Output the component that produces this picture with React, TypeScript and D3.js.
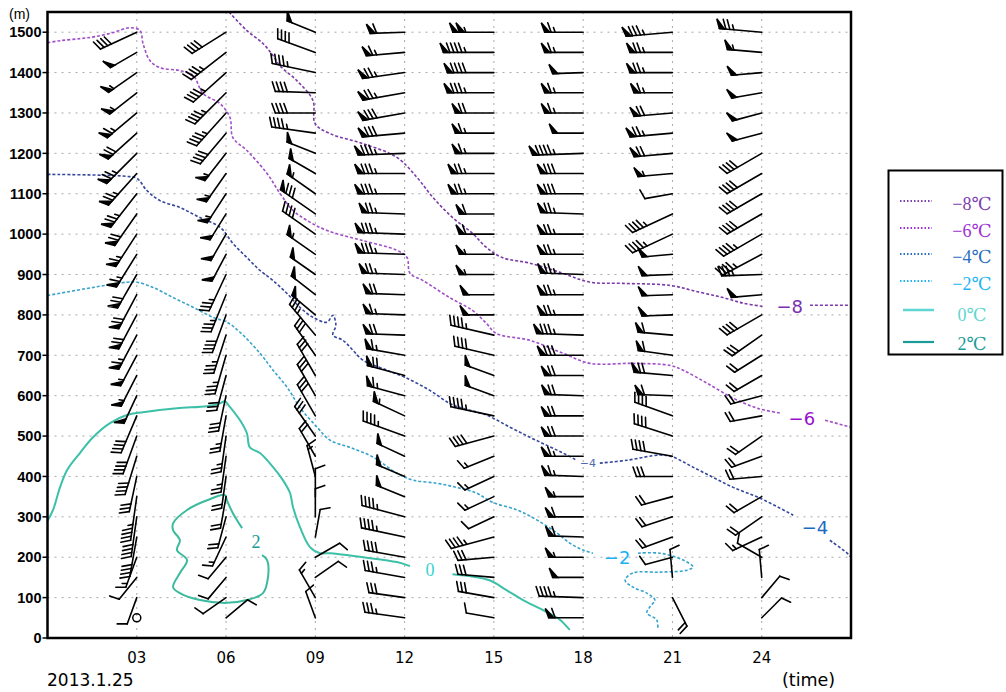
import React from 'react';
import * as d3 from 'd3';

// ---------------- data ----------------
const LEVELS = [1500,1450,1400,1350,1300,1250,1200,1150,1100,1050,1000,950,900,850,800,750,700,650,600,550,500,450,400,350,300,250,200,150,100,50];
const BARB_HOURS = [3,6,9,12,15,18,21,24];

const DIR_03 = [245,240,235,232,230,228,225,222,218,215,213,212,210,208,208,208,208,207,205,203,200,197,192,188,188,190,200,219,200,0];
const SPD_03 = [16,20,22,22,26,28,30,30,30,28,26,26,28,28,28,26,22,22,20,16,16,16,12,18,16,16,6,4,4,0];
const DIR_06 = [238,232,228,225,222,220,218,215,213,212,210,208,205,202,200,198,196,195,192,190,188,188,188,190,195,205,220,220,235,50];
const SPD_06 = [16,18,18,18,18,16,22,22,22,20,20,20,14,14,16,14,14,12,12,10,10,10,8,8,8,6,4,4,4,4];
const DIR_09 = [292,290,282,272,270,278,292,300,305,305,305,305,305,308,310,320,325,330,330,330,325,330,345,0,0,10,60,55,330,340];
const SPD_09 = [20,16,18,16,16,18,20,20,22,32,16,22,20,20,20,14,12,12,12,12,12,8,6,4,4,4,4,4,6,4];
const DIR_12 = [268,265,262,260,260,265,268,270,270,272,272,272,272,272,272,272,280,285,285,295,290,295,293,292,285,282,280,280,278,278];
const SPD_12 = [24,26,30,30,32,32,34,34,34,30,34,34,30,28,26,28,26,28,26,22,18,20,20,20,18,18,16,14,12,14];
const DIR_15 = [270,270,270,270,270,270,270,270,270,270,270,270,270,270,270,283,283,290,290,282,255,248,245,245,245,255,265,275,280,280];
const SPD_15 = [42,38,36,34,28,26,26,30,30,24,24,22,22,20,20,18,16,20,20,18,16,6,6,6,4,18,12,12,12,4];
const DIR_18 = [270,270,268,270,270,270,268,270,270,272,270,270,272,270,270,272,270,270,272,270,270,270,272,270,270,272,270,270,272,270];
const SPD_18 = [26,26,20,26,26,20,38,32,32,30,30,30,30,30,30,34,32,28,28,28,28,26,26,22,24,24,22,20,18,24];
const DIR_21 = [265,270,270,270,265,265,265,265,260,245,245,265,268,268,268,275,278,275,272,290,288,280,270,255,252,250,255,355,153,0];
const SPD_21 = [34,30,30,26,28,30,28,22,4,18,18,20,20,20,20,24,24,28,24,16,16,16,12,8,8,8,4,4,8,-1];
const DIR_24 = [275,275,265,260,255,255,240,240,240,240,240,242,268,265,240,235,238,240,255,260,235,250,265,240,235,245,300,355,40,45];
const SPD_24 = [30,22,20,20,20,20,16,16,16,16,18,18,14,20,16,12,8,8,8,8,8,8,8,8,8,6,4,4,4,4];

const WIND_DIRS = [DIR_03, DIR_06, DIR_09, DIR_12, DIR_15, DIR_18, DIR_21, DIR_24];
const WIND_SPDS = [SPD_03, SPD_06, SPD_09, SPD_12, SPD_15, SPD_18, SPD_21, SPD_24];

const Y_TICKS = [0,100,200,300,400,500,600,700,800,900,1000,1100,1200,1300,1400,1500];
const X_TICKS = [3,6,9,12,15,18,21,24];
const X_LABELS = ['03','06','09','12','15','18','21','24'];

// temperature contours: [hour, height m]
const T_M8 = [
  [[6.10,1550],[6.70,1504],[7.24,1472],[7.58,1442],[7.81,1417],[8.38,1380],[8.92,1331],[8.99,1274],[9.49,1249],[10.60,1224],[11.74,1190],[12.42,1140],[12.95,1091],[13.61,1041],[14.28,1002],[14.75,967],[15.28,942],[16.21,928],[17.32,903],[18.23,881],[19.34,878],[20.92,873],[21.92,856],[22.70,843],[23.38,829],[24.05,821]],
  [[25.62,824],[27,824]],
];
const T_M6 = [
  [[0,1474],[0.42,1479],[1.09,1484],[1.60,1489],[2.20,1499],[2.77,1511],[3.11,1504],[3.21,1472],[3.44,1430],[3.78,1412],[4.45,1405],[4.89,1393],[5.23,1348],[5.80,1323],[6.13,1289],[6.23,1239],[6.70,1207],[7.38,1150],[7.81,1101],[8.25,1059],[8.72,1034],[9.39,1009],[10.60,984],[11.74,960],[12.08,942],[12.18,903],[12.62,885],[13.51,843],[14.28,811],[14.75,779],[15.08,754],[16.21,737],[17.32,705],[18.23,680],[19.67,680],[20.92,675],[21.36,663],[22.16,631],[23.04,594],[23.85,569],[24.62,557]],
  [[26.13,539],[27,522]],
];
const T_M4 = [
  [[0,1148],[2.66,1143],[3.01,1138],[3.34,1108],[3.78,1083],[4.45,1066],[5.12,1041],[5.80,1017],[6.23,977],[6.70,942],[7.14,910],[7.58,885],[8.05,853],[8.48,819],[8.92,794],[9.39,782],[9.59,799],[9.69,774],[9.59,750],[9.93,737],[10.27,712],[10.60,688],[11.41,663],[12.08,643],[12.85,613],[13.51,581],[13.94,569],[14.75,552],[15.54,522],[16.21,497],[16.78,477],[17.32,458],[17.79,440]],
  [[18.56,433],[19.47,440],[20.58,453],[21.02,448],[21.69,423],[22.36,398],[23.04,373],[23.95,346],[25.06,304]],
  [[26.29,242],[26.87,210],[27,200]],
];
const T_M2 = [
  [[0,848],[1.53,868],[2.67,881],[3.01,881],[3.55,868],[4.22,843],[4.89,819],[5.56,794],[6.03,782],[6.47,757],[7.14,705],[7.58,663],[8.05,621],[8.48,571],[9.06,522],[9.49,490],[10.16,472],[10.94,448],[11.74,408],[12.28,391],[13.09,383],[13.74,373],[14.41,359],[14.95,336],[15.78,317],[16.45,292],[17.12,260],[17.55,235],[17.99,218],[18.33,210]],
  [[19.84,210],[20.58,210],[21.36,193],[21.69,176],[21.49,168],[20.58,163],[19.67,161],[19.41,143],[19.67,126],[20.14,111],[20.41,94],[20.24,77],[20.14,62],[20.47,45],[20.51,25]],
];
const T_0 = [
  [[0,290],[0.2,320],[0.42,373],[0.66,416],[1.09,458],[1.53,497],[2.10,532],[2.67,552],[3.21,559],[4.35,569],[5.36,574],[5.80,581],[5.96,586],[6.10,575],[6.47,539],[6.70,507],[6.80,472],[7.14,458],[7.58,423],[7.91,391],[8.15,359],[8.25,324],[8.48,275],[8.82,225],[9.16,210],[9.49,210],[10.60,200],[11.74,188],[12.18,178]],
  [[13.61,158],[14.85,143],[15.41,119],[15.98,94],[16.65,69],[17.22,45],[17.55,20]],
];
const T_2 = [
  [[6.54,272],[6.23,309],[6.03,341],[5.96,354],[5.36,341],[4.69,317],[4.22,284],[4.22,267],[4.45,242],[4.35,218],[4.69,193],[4.45,161],[4.22,126],[4.45,111],[5.12,94],[6.03,87],[6.70,94],[7.24,111],[7.41,151],[7.38,193],[7.21,205]],
];

const CONTOURS = [
  { segs: T_M8, color: '#7b3aa8', dash: '3,2', width: 1.6 },
  { segs: T_M6, color: '#a04fc8', dash: '3,2', width: 1.6 },
  { segs: T_M4, color: '#34479c', dash: '3,2', width: 1.6 },
  { segs: T_M2, color: '#35a3cc', dash: '3,2', width: 1.6 },
  { segs: T_0, color: '#3cc0a8', dash: null, width: 2 },
  { segs: T_2, color: '#3cba9e', dash: null, width: 2 },
];

// contour labels [hour, height]
const LABEL_TEXT = ['−8', '−6', '−4', '−4', '−2', '0', '2'];
const LABEL_POS = [[24.94,821],[25.35,542],[25.79,272],[18.16,433],[19.14,200],[12.85,168],[7.01,238]];
const LABEL_COLOR = ['#7a30b0', '#9a10cc', '#1a6cc0', '#5068b0', '#1ab2f0', '#3cd2d2', '#1a9a9a'];
const LABEL_SIZE = [18, 18, 18, 11, 18, 18, 18];

const LEGEND_TEXT = ['−8℃', '−6℃', '−4℃', '−2℃', '0℃', '2℃'];
const LEGEND_COLOR = ['#7c3fae', '#a12fd3', '#2a6fbf', '#1fb5f0', '#5fd6d0', '#1c9c98'];
const LEGEND_LINE = ['#7c3fae', '#a12fd3', '#2a6fbf', '#1fb5f0', '#5fd6d0', '#1c9c98'];

// ---------------- layout ----------------
const W = 1006, H = 692;
const PL = 47.5, PR = 851, PT = 12, PB = 638;

const x = d3.scaleLinear().domain([0, 27]).range([PL, PR]);
const y = d3.scaleLinear().domain([0, 1550]).range([PB, PT]);

function Barb({ cx, cy, dir, spd }: { cx: number; cy: number; dir: number; spd: number }) {
  if (spd < 0) return null;
  if (spd === 0) return <circle cx={cx} cy={cy} r={4} fill="none" stroke="#000" strokeWidth={1.5} />;
  const r = (dir * Math.PI) / 180;
  const ux = Math.sin(r), uy = -Math.cos(r);
  const b0x = -uy, b0y = ux;
  const a = (20 * Math.PI) / 180;
  const bx = Math.cos(a) * b0x + Math.sin(a) * ux;
  const by = Math.cos(a) * b0y + Math.sin(a) * uy;
  const np = Math.floor(spd / 20);
  let rem = spd - np * 20;
  const nf = Math.floor(rem / 4);
  rem -= nf * 4;
  const nh = rem >= 2 ? 1 : 0;
  const S0 = 24, PW = 5, GAP = 1.5, FS = 4, BL = 10;
  const L = S0 + np * (PW + GAP) + nf * FS + nh * FS;
  const P = (s: number) => [cx + ux * s, cy + uy * s];
  const els: any[] = [];
  const tip = P(L);
  els.push(<line key="s" x1={cx} y1={cy} x2={tip[0]} y2={tip[1]} />);
  let pos = L;
  for (let i = 0; i < np; i++) {
    const p1 = P(pos), p2 = P(pos - PW);
    els.push(
      <polygon
        key={'p' + i}
        points={`${p1[0]},${p1[1]} ${p1[0] + bx * BL},${p1[1] + by * BL} ${p2[0]},${p2[1]}`}
        fill="#000"
        strokeLinejoin="miter"
      />
    );
    pos -= PW + GAP;
  }
  for (let i = 0; i < nf; i++) {
    const p = P(pos);
    els.push(<line key={'f' + i} x1={p[0]} y1={p[1]} x2={p[0] + bx * BL} y2={p[1] + by * BL} />);
    pos -= FS;
  }
  if (nh) {
    const p = P(pos);
    els.push(<line key="h" x1={p[0]} y1={p[1]} x2={p[0] + bx * BL * 0.5} y2={p[1] + by * BL * 0.5} />);
  }
  return <g>{els}</g>;
}

export default function App() {
  const lineGen = d3
    .line<number[]>()
    .x((d) => x(d[0]))
    .y((d) => y(d[1]))
    .curve(d3.curveCatmullRom.alpha(0.5));

  return (
    <svg width={W} height={H} style={{ position: 'absolute', left: 0, top: 0, background: '#fff' }}>
      <defs>
        <clipPath id="plotclip">
          <rect x={PL} y={PT} width={PR - PL} height={PB - PT} />
        </clipPath>
      </defs>
      <rect x={0} y={0} width={W} height={H} fill="#fff" />
      {/* grid */}
      <g stroke="#a8a8a8" strokeWidth={1} strokeDasharray="2,5">
        {Y_TICKS.filter((v) => v > 0).map((v) => (
          <line key={'gy' + v} x1={PL} x2={PR} y1={y(v)} y2={y(v)} />
        ))}
        {X_TICKS.map((h) => (
          <line key={'gx' + h} x1={x(h)} x2={x(h)} y1={PT} y2={PB} />
        ))}
      </g>

      {/* contours */}
      <g clipPath="url(#plotclip)" fill="none">
        {CONTOURS.map((c, ci) =>
          c.segs.map((s, si) => (
            <path
              key={'c' + ci + '-' + si}
              d={lineGen(s as number[][]) || ''}
              stroke={c.color}
              strokeWidth={c.width}
              strokeDasharray={c.dash || undefined}
            />
          ))
        )}
      </g>

      {/* wind barbs */}
      <g stroke="#000" strokeWidth={1.6} strokeLinecap="round" clipPath="url(#plotclip)">
        {BARB_HOURS.map((h, ci) =>
          LEVELS.map((lv, li) => (
            <Barb key={'b' + ci + '-' + li} cx={x(h)} cy={y(lv)} dir={WIND_DIRS[ci][li]} spd={WIND_SPDS[ci][li]} />
          ))
        )}
      </g>

      {/* contour labels */}
      {LABEL_TEXT.map((t, i) => (
        <text
          key={'lab' + i}
          x={x(LABEL_POS[i][0])}
          y={y(LABEL_POS[i][1])}
          dy="0.35em"
          textAnchor="middle"
          fontSize={LABEL_SIZE[i]}
          fontFamily={i >= 5 ? "'Liberation Serif', 'DejaVu Serif', serif" : "'DejaVu Sans', sans-serif"}
          fill={LABEL_COLOR[i]}
        >
          {t}
        </text>
      ))}

      {/* frame */}
      <rect x={PL} y={PT} width={PR - PL} height={PB - PT} fill="none" stroke="#000" strokeWidth={2.5} />

      {/* y axis */}
      {Y_TICKS.map((v) => (
        <g key={'yt' + v}>
          <line x1={PL - 5} x2={PL} y1={y(v)} y2={y(v)} stroke="#000" strokeWidth={1.5} />
          <text
            x={PL - 6}
            y={y(v)}
            dy="0.36em"
            textAnchor="end"
            fontSize={14.5}
            fontWeight="bold"
            fontFamily="'Liberation Sans', Arial, sans-serif"
            fill="#000"
          >
            {v}
          </text>
        </g>
      ))}
      <text x={9} y={19} fontSize={14} fontFamily="'Liberation Sans', Arial, sans-serif" fill="#000">
        (m)
      </text>

      {/* x axis */}
      {X_TICKS.map((h, i) => (
        <text
          key={'xt' + h}
          x={x(h)}
          y={663}
          textAnchor="middle"
          fontSize={15}
          fontFamily="'DejaVu Sans', sans-serif"
          fill="#000"
        >
          {X_LABELS[i]}
        </text>
      ))}
      <text x={47} y={686} fontSize={17} fontFamily="'DejaVu Sans', sans-serif" fill="#000">
        2013.1.25
      </text>
      <text x={782} y={686} fontSize={17.5} fontFamily="'DejaVu Sans', sans-serif" fill="#000">
        (time)
      </text>

      {/* legend */}
      <rect x={888.5} y={170.5} width={114} height={184} fill="#fff" stroke="#000" strokeWidth={2} />
      {LEGEND_TEXT.map((t, i) => {
        const cy = [201, 228, 254, 281, 310, 342][i];
        const ty = [204, 231, 257, 284, 315, 344][i];
        return (
          <g key={'lg' + i}>
            <line
              x1={i < 4 ? 900 : 903}
              x2={i < 4 ? 932 : 934}
              y1={cy}
              y2={cy}
              stroke={LEGEND_LINE[i]}
              strokeWidth={i === 4 ? 2.5 : i === 5 ? 2.2 : 1.8}
              strokeDasharray={i < 4 ? '1.5,2' : undefined}
            />
            <text
              x={972}
              y={ty}
              dy="0.35em"
              textAnchor="middle"
              fontSize={18}
              fontFamily="'Liberation Serif', 'DejaVu Serif', serif"
              fill={LEGEND_COLOR[i]}
            >
              {t}
            </text>
          </g>
        );
      })}
    </svg>
  );
}
